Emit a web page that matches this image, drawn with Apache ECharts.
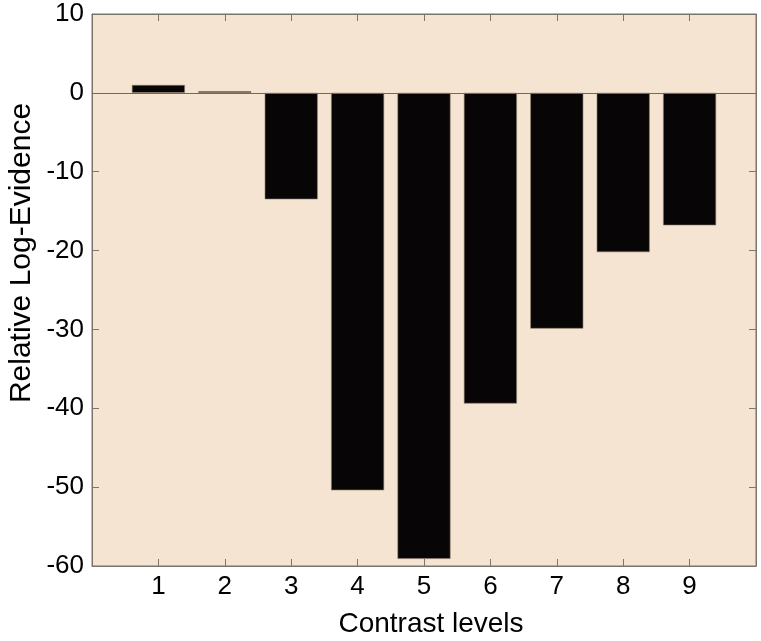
<!DOCTYPE html>
<html>
<head>
<meta charset="utf-8">
<script src="https://cdn.jsdelivr.net/npm/echarts@6/dist/echarts.min.js"></script>
<style>html,body{margin:0;padding:0;background:#fff;}#c{width:761px;height:641px;}</style>
</head>
<body>
<div id="c"></div>
<script>
const categories = [1, 2, 3, 4, 5, 6, 7, 8, 9];
const values = [1.0, 0.2, -13.5, -50.4, -59.1, -39.4, -29.9, -20.2, -16.8];
const yTicks = [10, 0, -10, -20, -30, -40, -50, -60];

const chart = echarts.init(document.getElementById('c'));
const font = 'Liberation Sans, Arial, Helvetica, sans-serif';
const axisColor = '#7a756d';
const option = {
  animation: false,
  grid: {left: 92, right: 5, top: 14, bottom: 75, show: true, backgroundColor: '#F5E4D1',
    borderColor: axisColor, borderWidth: 1, outerBoundsMode: 'none', containLabel: false},
  xAxis: [{
    type: 'value', min: 0, max: 10, interval: 1,
    axisLine: {show: true, onZero: false, lineStyle: {color: axisColor}},
    axisTick: {show: true, inside: true, length: 7, lineStyle: {color: axisColor},
      customValues: categories},
    axisLabel: {fontSize: 26, color: '#000', fontFamily: font, margin: 8,
      customValues: categories},
    splitLine: {show: false},
    name: 'Contrast levels', nameLocation: 'middle', nameGap: 44,
    nameTextStyle: {fontSize: 28, color: '#000', fontFamily: font, padding: [0, 0, 0, 14]}
  }, {
    type: 'value', min: 0, max: 10, interval: 1, position: 'top',
    axisLine: {show: true, onZero: false, lineStyle: {color: axisColor}},
    axisTick: {show: true, inside: true, length: 7, lineStyle: {color: axisColor}, customValues: categories},
    axisLabel: {show: false},
    splitLine: {show: false}
  }],
  yAxis: [{
    type: 'value', min: -60, max: 10, interval: 10,
    axisLine: {show: true, onZero: false, lineStyle: {color: axisColor}},
    axisTick: {show: true, inside: true, length: 7, lineStyle: {color: axisColor}, customValues: yTicks},
    axisLabel: {fontSize: 26, color: '#000', fontFamily: font, margin: 8, customValues: yTicks},
    splitLine: {show: false}
  }, {
    type: 'value', min: -60, max: 10, interval: 10, position: 'right',
    axisLine: {show: true, onZero: false, lineStyle: {color: axisColor}},
    axisTick: {show: true, inside: true, length: 7, lineStyle: {color: axisColor}, customValues: yTicks},
    axisLabel: {show: false},
    splitLine: {show: false}
  }],
  graphic: [{
    type: 'text', x: 22, y: 253, rotation: Math.PI / 2,
    style: {text: 'Relative Log-Evidence', fontSize: 30, fill: '#000', fontFamily: font,
      align: 'center', verticalAlign: 'middle'}
  }],
  series: [{
    type: 'bar', xAxisIndex: 0, yAxisIndex: 0,
    data: categories.map((c, i) => [c, values[i]]),
    barWidth: 53,
    itemStyle: {color: '#070505', borderColor: '#8c7c6a', borderWidth: 0.6},
    markLine: {
      silent: true, symbol: 'none', label: {show: false},
      lineStyle: {color: '#6e6a62', width: 1, type: 'solid'},
      data: [{yAxis: 0}]
    },
    z: 2
  }]
};
chart.setOption(option);
</script>
</body>
</html>
